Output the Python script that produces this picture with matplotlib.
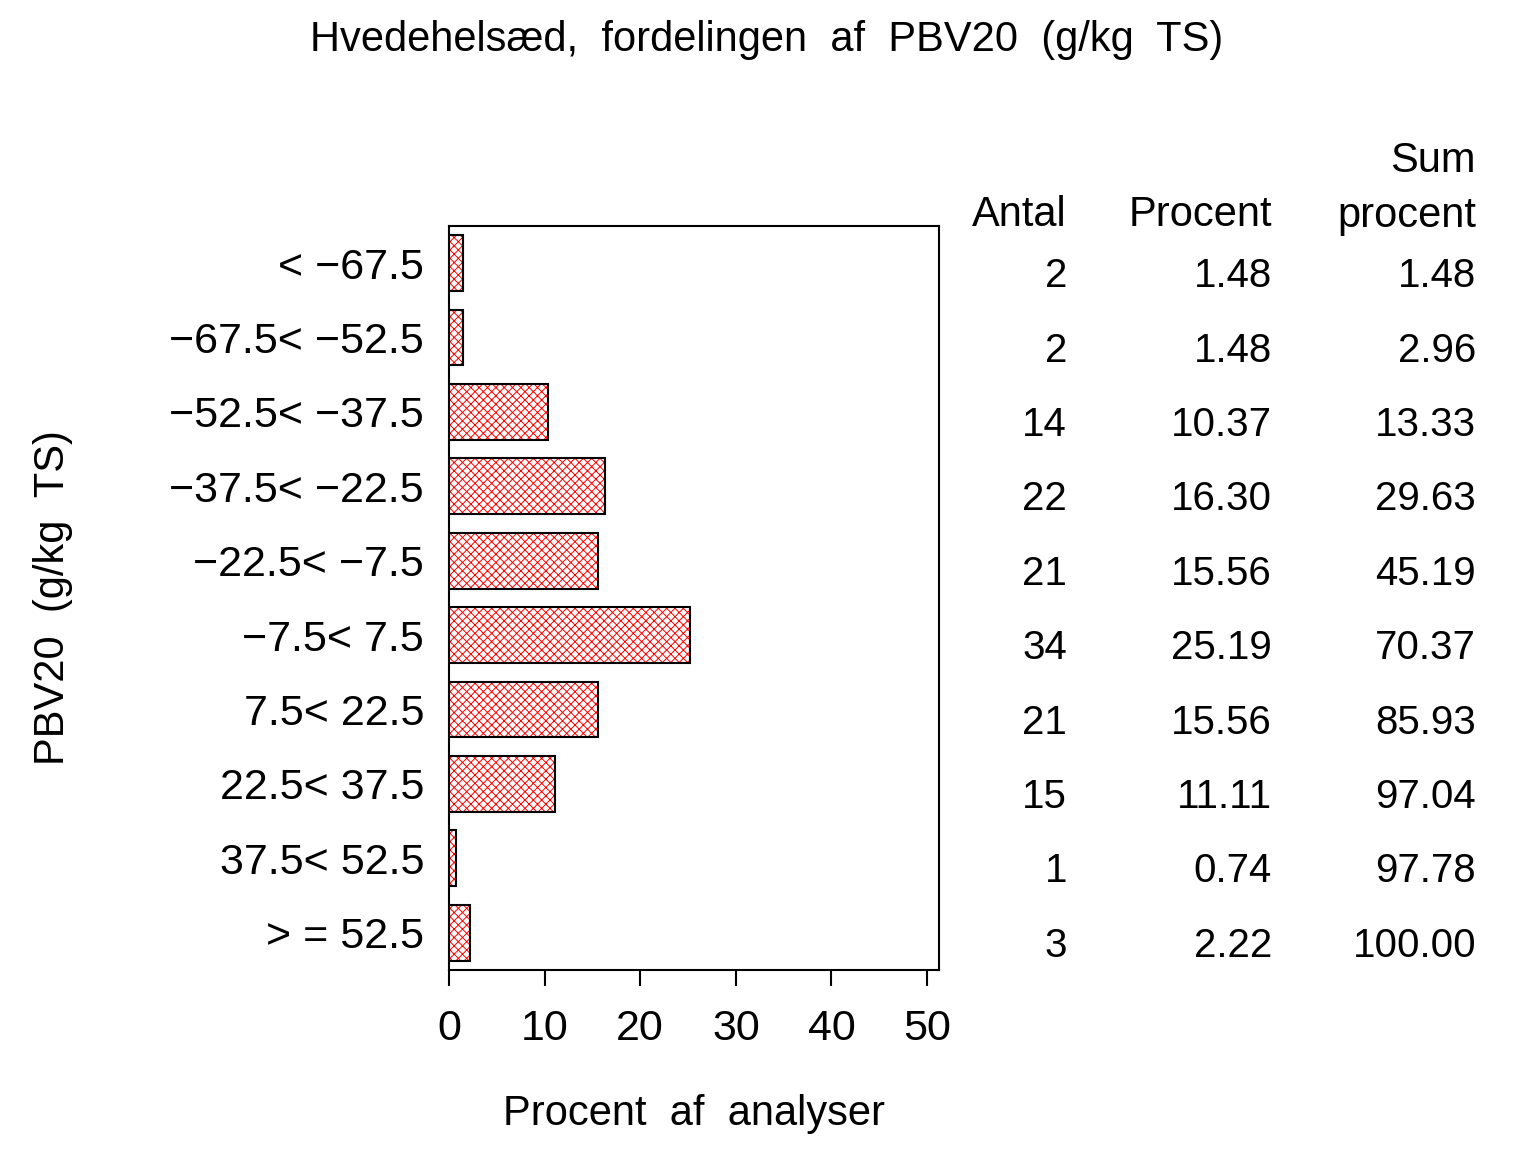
import matplotlib
matplotlib.use("Agg")
import matplotlib.pyplot as plt
import matplotlib.transforms as mtransforms

plt.rcParams['font.family'] = ['Liberation Sans', 'DejaVu Sans']
plt.rcParams['hatch.linewidth'] = 0.7

categories = ["< \u221267.5", "\u221267.5< \u221252.5", "\u221252.5< \u221237.5",
              "\u221237.5< \u221222.5", "\u221222.5< \u22127.5", "\u22127.5< 7.5",
              "7.5< 22.5", "22.5< 37.5", "37.5< 52.5", "> = 52.5"]
antal = [2, 2, 14, 22, 21, 34, 21, 15, 1, 3]
procent = [1.48, 1.48, 10.37, 16.30, 15.56, 25.19, 15.56, 11.11, 0.74, 2.22]
sum_procent = [1.48, 2.96, 13.33, 29.63, 45.19, 70.37, 85.93, 97.04, 97.78, 100.00]
xticks = [0, 10, 20, 30, 40, 50]

W, H = 1536, 1152
fig = plt.figure(figsize=(W / 100, H / 100), dpi=100)
ax = fig.add_axes([449 / W, 1 - 970 / H, 490 / W, 744 / H])

ypos = list(range(len(categories)))
# red hatch first, then black outline on top
ax.barh(ypos, procent, height=0.75, color='white', edgecolor='red', hatch='xxxx', linewidth=0)
ax.barh(ypos, procent, height=0.75, fill=False, edgecolor='black', linewidth=1.5)

ax.set_xlim(0, 51.25)
ax.set_ylim(len(categories) - 0.5, -0.5)
ax.set_xticks(xticks)
ax.set_xticklabels([str(t) for t in xticks], fontsize=31)
ax.tick_params(axis='x', direction='out', length=11.5, width=1.5, pad=16.5)
ax.set_yticks(ypos)
ax.set_yticklabels(categories, fontsize=31)
ax.tick_params(axis='y', length=0, pad=18)
for s in ax.spines.values():
    s.set_linewidth(1.5)

fig.text(767 / W, 1 - 40 / H, "Hvedehelsæd,  fordelingen  af  PBV20  (g/kg  TS)",
         ha='center', va='center', fontsize=30)
fig.text(694 / W, 1 - 1114 / H, "Procent  af  analyser", ha='center', va='center', fontsize=30)
fig.text(53 / W, 1 - 598 / H, "PBV20  (g/kg  TS)", rotation=90, ha='center', va='center', fontsize=30)

# frequency table to the right
tr = mtransforms.blended_transform_factory(fig.transFigure, ax.transData)
cols = [1067 / W, 1272 / W, 1476 / W]
off = 0.12
for i in ypos:
    ax.text(cols[0], i + off, str(antal[i]), transform=tr, ha='right', va='center_baseline', fontsize=29)
    ax.text(cols[1], i + off, "%.2f" % procent[i], transform=tr, ha='right', va='center_baseline', fontsize=29)
    ax.text(cols[2], i + off, "%.2f" % sum_procent[i], transform=tr, ha='right', va='center_baseline', fontsize=29)

fig.text(cols[0], 1 - 211 / H, "Antal", ha='right', va='center_baseline', fontsize=30)
fig.text(cols[1], 1 - 211 / H, "Procent", ha='right', va='center_baseline', fontsize=30)
fig.text(cols[2], 1 - 157 / H, "Sum", ha='right', va='center_baseline', fontsize=30)
fig.text(cols[2], 1 - 211 / H, "procent", ha='right', va='center_baseline', fontsize=30)

fig.savefig("out.png", dpi=100, facecolor='white')
